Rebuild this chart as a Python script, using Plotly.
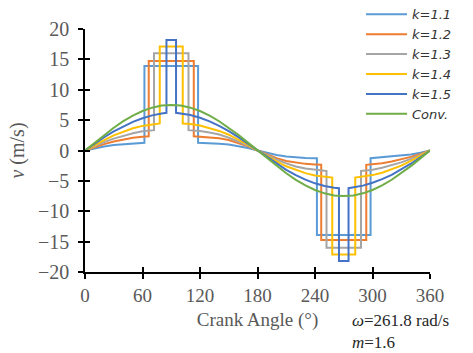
import plotly.graph_objects as go

# ---- data ----
ang_k11 = [0,10,20,30,40,50,60,62,62,118,118,120,130,140,150,160,170,180,190,200,210,220,230,240,242,242,298,298,300,310,320,330,340,350,360]
v_k11 = [0,0.37,0.65,0.9,1.05,1.16,1.25,1.28,13.9,13.9,1.28,1.27,1.22,1.13,0.98,0.75,0.42,0,-0.42,-0.75,-0.98,-1.13,-1.22,-1.27,-1.28,-13.9,-13.9,-1.28,-1.25,-1.16,-1.05,-0.9,-0.65,-0.37,0]

ang_k12 = [0,10,20,30,40,50,60,66.5,66.5,113.5,113.5,120,130,140,150,160,170,180,190,200,210,220,230,240,246.5,246.5,293.5,293.5,300,310,320,330,340,350,360]
v_k12 = [0,0.55,1.05,1.48,1.82,2.08,2.26,2.35,14.75,14.75,2.35,2.3,2.2,2.02,1.72,1.25,0.68,0,-0.68,-1.25,-1.72,-2.02,-2.2,-2.3,-2.35,-14.75,-14.75,-2.35,-2.26,-2.08,-1.82,-1.48,-1.05,-0.55,0]

ang_k13 = [0,10,20,30,40,50,60,70,72,72,108,108,110,120,130,140,150,160,170,180,190,200,210,220,230,240,250,252,252,288,288,290,300,310,320,330,340,350,360]
v_k13 = [0,0.72,1.38,1.95,2.45,2.85,3.15,3.32,3.35,16.0,16.0,3.35,3.34,3.22,2.98,2.62,2.12,1.5,0.78,0,-0.78,-1.5,-2.12,-2.62,-2.98,-3.22,-3.34,-3.35,-16.0,-16.0,-3.35,-3.32,-3.15,-2.85,-2.45,-1.95,-1.38,-0.72,0]

ang_k14 = [0,10,20,30,40,50,60,70,78,78,102,102,110,120,130,140,150,160,170,180,190,200,210,220,230,240,250,258,258,282,282,290,300,310,320,330,340,350,360]
v_k14 = [0,0.9,1.72,2.48,3.12,3.65,4.05,4.32,4.45,17.1,17.1,4.45,4.35,4.1,3.72,3.22,2.6,1.8,0.92,0,-0.92,-1.8,-2.6,-3.22,-3.72,-4.1,-4.35,-4.45,-17.1,-17.1,-4.45,-4.32,-4.05,-3.65,-3.12,-2.48,-1.72,-0.9,0]

ang_k15 = [0,10,20,30,40,50,60,70,80,85,85,95,95,100,110,120,130,140,150,160,170,180,190,200,210,220,230,240,250,260,265,265,275,275,280,290,300,310,320,330,340,350,360]
v_k15 = [0,1.12,2.18,3.15,4.0,4.72,5.3,5.78,6.08,6.2,18.2,18.2,6.2,6.12,5.85,5.4,4.8,4.05,3.2,2.2,1.12,0,-1.12,-2.2,-3.2,-4.05,-4.8,-5.4,-5.85,-6.12,-6.2,-18.2,-18.2,-6.2,-6.08,-5.78,-5.3,-4.72,-4.0,-3.15,-2.18,-1.12,0]

ang_conv = [0,10,20,30,40,50,60,70,80,90,100,110,120,130,140,150,160,170,180,190,200,210,220,230,240,250,260,270,280,290,300,310,320,330,340,350,360]
v_conv = [0,1.3,2.57,3.75,4.82,5.75,6.5,7.05,7.39,7.5,7.39,7.05,6.5,5.75,4.82,3.75,2.57,1.3,0,-1.3,-2.57,-3.75,-4.82,-5.75,-6.5,-7.05,-7.39,-7.5,-7.39,-7.05,-6.5,-5.75,-4.82,-3.75,-2.57,-1.3,0]

series_names = ["k=1.1", "k=1.2", "k=1.3", "k=1.4", "k=1.5", "Conv."]
series_x = [ang_k11, ang_k12, ang_k13, ang_k14, ang_k15, ang_conv]
series_y = [v_k11, v_k12, v_k13, v_k14, v_k15, v_conv]
colors = ["#5B9BD5", "#ED7D31", "#A5A5A5", "#FFC000", "#4472C4", "#70AD47"]

x_ticks = [0, 60, 120, 180, 240, 300, 360]
y_ticks = [-20, -15, -10, -5, 0, 5, 10, 15, 20]

serif = "Liberation Serif"
gray = "#595959"

fig = go.Figure()
for name, xs, ys, c in zip(series_names, series_x, series_y, colors):
    fig.add_trace(go.Scatter(x=xs, y=ys, mode="lines", name=name,
                             line=dict(color=c, width=2)))

# helper trace for the overlay axes that draw the inner half of the crossing ticks
fig.add_trace(go.Scatter(x=[None], y=[None], xaxis="x2", yaxis="y2",
                         showlegend=False, hoverinfo="skip"))

fig.update_layout(
    width=473, height=353,
    margin=dict(l=85, r=43, t=29, b=81, autoexpand=False),
    paper_bgcolor="white", plot_bgcolor="white",
    showlegend=True,
    legend=dict(x=0.80, y=1.122, xanchor="left", yanchor="top",
                bgcolor="rgba(0,0,0,0)", borderwidth=0,
                font=dict(family="DejaVu Sans", size=13, color="#333333", style="italic"),
                itemwidth=41, tracegroupgap=0),
    xaxis=dict(range=[0, 360], tickvals=x_ticks, ticks="outside", ticklen=5,
               tickwidth=1.5, tickcolor="black", showline=True, linecolor="black",
               linewidth=1.5, showgrid=False, zeroline=False,
               tickfont=dict(family=serif, size=19, color=gray),
               title=dict(text="Crank Angle (°)", standoff=8,
                          font=dict(family=serif, size=19, color=gray))),
    yaxis=dict(range=[-20, 20], tickvals=y_ticks, ticks="outside", ticklen=5,
               tickwidth=1.5, tickcolor="black", showline=True, linecolor="black",
               linewidth=1.5, showgrid=False, zeroline=False,
               ticklabelstandoff=5,
               tickfont=dict(family=serif, size=20, color=gray),
               title=dict(text="<i>v</i> (m/s)", standoff=8,
                          font=dict(family=serif, size=20, color=gray))),
    xaxis2=dict(overlaying="x", anchor="y", side="bottom", range=[0, 360],
                tickvals=x_ticks, ticks="inside", ticklen=5, tickwidth=1.5,
                tickcolor="black", showticklabels=False, showline=False,
                showgrid=False, zeroline=False),
    yaxis2=dict(overlaying="y", anchor="x", side="left", range=[-20, 20],
                tickvals=y_ticks, ticks="inside", ticklen=5, tickwidth=1.5,
                tickcolor="black", showticklabels=False, showline=False,
                showgrid=False, zeroline=False),
    annotations=[
        dict(text="<i>ω</i>=261.8 rad/s<br><i>m</i>=1.6", xref="paper", yref="paper",
             x=0.768, y=-0.245, xanchor="left", yanchor="middle", align="left",
             showarrow=False,
             font=dict(family=serif, size=17, color="#262626")),
    ],
)

fig.write_html("out.html")
